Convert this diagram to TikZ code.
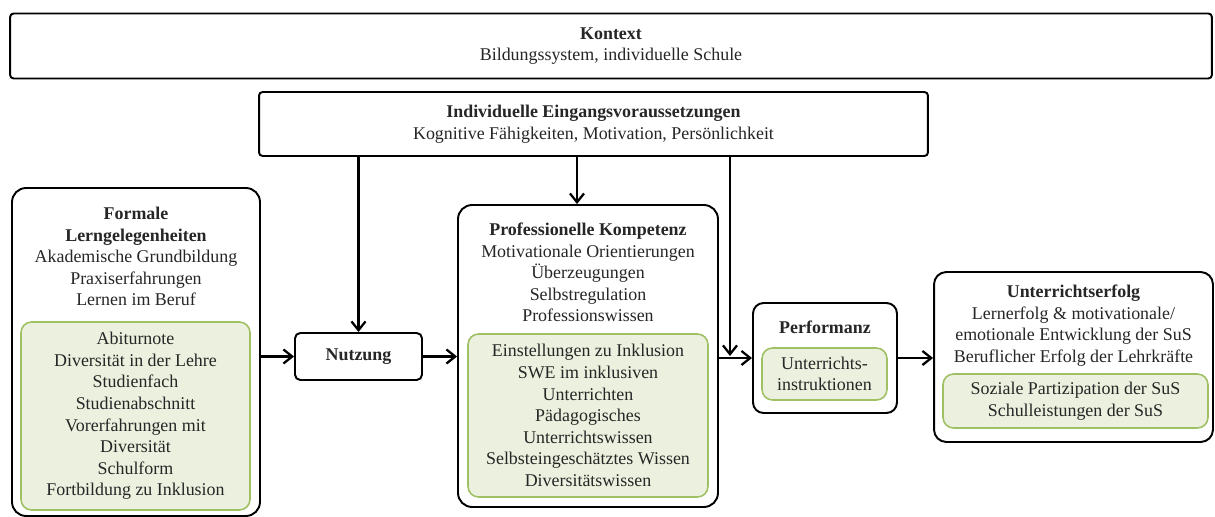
\documentclass[tikz,border=0pt]{standalone}
\usepackage{fontspec}
\setmainfont{Liberation Serif}
\usepackage{tikz}
\usetikzlibrary{arrows.meta}
\definecolor{greenfill}{RGB}{235,241,222}
\definecolor{greenline}{RGB}{160,192,100}
\definecolor{textgray}{RGB}{38,38,38}
\newcommand{\boxfont}{\fontsize{10.2}{12.3}\selectfont}

\begin{document}
\begin{tikzpicture}[
    x=0.02cm,
    y=-0.02cm,
    % -------------------------------------------------
    % Node styles
    % -------------------------------------------------
    outerbox/.style={
        rectangle,
        draw=black,
        line width=1.1pt,
        fill=white,
        inner sep=0pt
    },
    mainbox/.style={
        outerbox,
        rounded corners=8pt
    },
    flatbox/.style={
        outerbox,
        rounded corners=2pt
    },
    greenbox/.style={
        rectangle,
        rounded corners=6pt,
        draw=greenline,
        line width=0.9pt,
        fill=greenfill,
        align=center,
        font=\boxfont,
        text=textgray,
        inner sep=0pt
    },
    boxtext/.style={
        align=center,
        font=\boxfont,
        text=textgray,
        inner sep=0pt
    },
    % -------------------------------------------------
    % Connections
    % -------------------------------------------------
    arrow/.style={
        -{Straight Barb[length=5pt,width=8pt,line width=1.3pt]},
        line width=1.4pt
    }
]

\useasboundingbox (0,0) rectangle (1215,517);

% =====================================================
% Context and entry conditions
% =====================================================

\node[flatbox, boxtext, minimum width=24.04cm, minimum height=1.30cm] (kontext)
    at (611,46) {\textbf{Kontext}\\Bildungssystem, individuelle Schule};

\node[flatbox, boxtext, minimum width=13.38cm, minimum height=1.28cm] (eingang)
    at (593.5,124) {\textbf{Individuelle Eingangsvoraussetzungen}\\Kognitive Fähigkeiten, Motivation, Persönlichkeit};

% =====================================================
% Formal learning opportunities
% =====================================================

\node[mainbox, minimum width=4.96cm, minimum height=6.56cm] (formal) at (136,352) {};

\node[boxtext] (formalhead) at (136,256.5)
    {\textbf{Formale}\\\textbf{Lerngelegenheiten}\\Akademische Grundbildung\\Praxiserfahrungen\\Lernen im Beruf};

\node[greenbox, minimum width=4.58cm, minimum height=3.76cm] (formalgreen) at (135.5,416)
    {Abiturnote\\Diversität in der Lehre\\Studienfach\\Studienabschnitt\\Vorerfahrungen mit\\Diversität\\Schulform\\Fortbildung zu Inklusion};

% =====================================================
% Use
% =====================================================

\node[flatbox, boxtext, rounded corners=3pt, minimum width=2.54cm, minimum height=0.94cm] (nutzung)
    at (358.5,356.5) {\textbf{Nutzung}};

% =====================================================
% Professional competence
% =====================================================

\node[mainbox, minimum width=5.2cm, minimum height=6.04cm] (kompetenz) at (588,356) {};

\node[boxtext] (kompetenzhead) at (588,272.5)
    {\textbf{Professionelle Kompetenz}\\Motivationale Orientierungen\\Überzeugungen\\Selbstregulation\\Professionswissen};

\node[greenbox, minimum width=4.8cm, minimum height=3.26cm] (kompetenzgreen) at (588,415.5)
    {Einstellungen zu Inklusion\\SWE im inklusiven\\Unterrichten\\Pädagogisches\\Unterrichtswissen\\Selbsteingeschätztes Wissen\\Diversitätswissen};

% =====================================================
% Performance
% =====================================================

\node[outerbox, rounded corners=6pt, minimum width=2.88cm, minimum height=2.2cm] (performanz) at (825,358) {};

\node[boxtext] (performanzhead) at (825,327) {\textbf{Performanz}};

\node[greenbox, minimum width=2.5cm, minimum height=1.04cm] (performanzgreen) at (824.5,374)
    {Unterrichts-\\instruktionen};

% =====================================================
% Teaching success
% =====================================================

\node[outerbox, rounded corners=7pt, minimum width=5.58cm, minimum height=3.4cm] (erfolg) at (1073.5,357) {};

\node[boxtext] (erfolghead) at (1073.5,325.5)
    {\textbf{Unterrichtserfolg}\\Lernerfolg \& motivationale/\\emotionale Entwicklung der SuS\\Beruflicher Erfolg der Lehrkräfte};

\node[greenbox, minimum width=5.3cm, minimum height=1.08cm] (erfolggreen) at (1075.5,401)
    {Soziale Partizipation der SuS\\Schulleistungen der SuS};

% =====================================================
% Main flow
% =====================================================

\draw[arrow] (nutzung.west -| formal.east) -- (nutzung.west);

\draw[arrow] (nutzung.east) -- (nutzung.east -| kompetenz.west);

\draw[arrow] (performanz.west -| kompetenz.east) -- (performanz.west);

\draw[arrow] (performanz.east) -- (performanz.east -| erfolg.west);

% =====================================================
% Entry conditions -> flow
% =====================================================

\coordinate (merge) at (730,356);

\draw[arrow] (eingang.south -| nutzung.north) -- (nutzung.north);

\draw[arrow] ([xshift=-0.22cm]kompetenz.north |- eingang.south) -- ([xshift=-0.22cm]kompetenz.north);

\draw[arrow] (eingang.south -| merge) -- (merge);

\end{tikzpicture}
\end{document}
